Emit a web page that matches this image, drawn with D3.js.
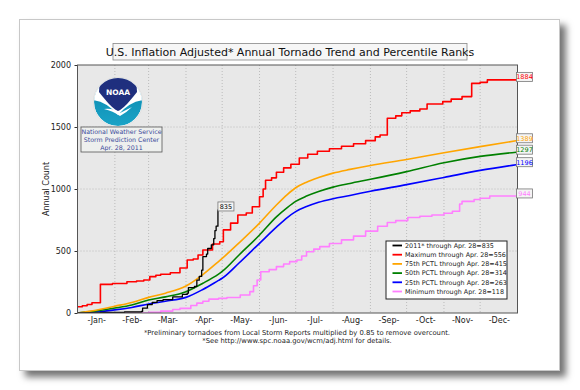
<!DOCTYPE html>
<html><head><meta charset="utf-8">
<script src="https://cdn.jsdelivr.net/npm/d3@7"></script>
<style>
body{margin:0;background:#fff}
svg{display:block}
text{font-family:"DejaVu Sans",sans-serif}
</style>
</head><body>
<script>
// ---- data ----
const monthNames = ["Jan","Feb","Mar","Apr","May","Jun","Jul","Aug","Sep","Oct","Nov","Dec"];
const monthStarts = [1,32,60,91,121,152,182,213,244,274,305,335,366];
const yTicks = [0,500,1000,1500,2000];

const pctlDays = [1,15,32,46,60,74,91,105,118,121,135,152,166,175,182,191,201,213,227,244,274,305,335,365];
const p75 = [0,20,55,85,126,160,218,310,415,440,565,725,871,955,1010,1055,1092,1128,1158,1190,1238,1292,1342,1389];
const p50 = [0,15,40,65,105,130,172,240,314,335,468,629,775,850,900,943,980,1015,1045,1078,1140,1212,1263,1297];
const p25 = [0,8,25,45,73,95,126,190,263,280,403,562,692,770,818,858,893,922,948,982,1035,1093,1150,1196];

const maxDays = [1,5,9,13,20,30,42,50,56,61,66,70,78,86,92,97,101,105,113,119,122,128,134,141,146,152,155,157,162,166,172,178,185,192,200,210,220,230,240,248,252,258,265,270,277,285,291,304,311,320,328,335,341,365];
const maxVals = [50,58,68,83,231,238,252,258,266,293,305,312,324,363,427,435,468,508,556,575,670,725,790,806,857,938,1000,1070,1090,1135,1170,1200,1250,1280,1305,1325,1345,1365,1390,1420,1435,1570,1590,1615,1630,1645,1685,1705,1725,1745,1852,1860,1880,1884];

const minDays = [1,55,60,70,80,86,95,100,105,110,118,125,136,144,147,150,153,160,166,172,177,183,187,191,197,202,210,220,230,240,250,258,265,275,285,295,305,312,318,320,330,335,343,365];
const minVals = [0,0,5,15,28,37,60,80,95,112,118,125,145,172,220,266,333,350,374,395,414,427,460,494,515,535,560,590,620,660,700,730,745,770,780,790,805,820,879,900,915,925,944,944];

const y2011Days = [1,20,40,54,55,59,63,67,72,80,88,92,93,98,100,102,104,105,108,109,112,114,115,116,117.5];
const y2011Vals = [0,4,8,12,40,68,85,100,108,130,150,160,205,215,265,295,345,455,475,520,550,600,665,700,835];

const legendLabels = ["2011* through Apr. 28=835","Maximum through Apr. 28=556","75th PCTL through Apr. 28=415","50th PCTL through Apr. 28=314","25th PCTL through Apr. 28=263","Minimum through Apr. 28=118"];
const seriesColors = ["#000000","#ff0000","#ffa500","#008000","#0000ff","#ff7fff"];
const infoLines = ["National Weather Service","Storm Prediction Center","Apr. 28, 2011"];
const titleText = "U.S. Inflation Adjusted* Annual Tornado Trend and Percentile Ranks";
const footLines = ["*Preliminary tornadoes from Local Storm Reports multiplied by 0.85 to remove overcount.","*See http://www.spc.noaa.gov/wcm/adj.html for details."];

// ---- drawing ----
const W=580,H=390;
const svg=d3.select("body").append("svg").attr("width",W).attr("height",H);
const defs=svg.append("defs");
const f=defs.append("filter").attr("id","sh").attr("x","-10%").attr("y","-10%").attr("width","130%").attr("height","130%");
f.append("feDropShadow").attr("dx",6).attr("dy",6).attr("stdDeviation",3.5).attr("flood-color","#000").attr("flood-opacity",0.55);

svg.append("rect").attr("x",19.5).attr("y",19.5).attr("width",540).attr("height",351)
  .attr("fill","#fff").attr("stroke","#c8c8c8").attr("filter","url(#sh)");

const L=77.5,R=517.5,T=65,B=313;
const x=d3.scaleLinear().domain([1,366]).range([L,R]);
const y=d3.scaleLinear().domain([0,2000]).range([B,T]);

svg.append("rect").attr("x",L).attr("y",T).attr("width",R-L).attr("height",B-T).attr("fill","#e8e8e8");

// grid
const g=svg.append("g");
g.selectAll(".vg").data(monthStarts.slice(1,12)).join("line")
  .attr("x1",d=>x(d)).attr("x2",d=>x(d)).attr("y1",T).attr("y2",B)
  .attr("stroke","#b0b0b0").attr("stroke-width",0.8).attr("stroke-dasharray","1,2");
g.selectAll(".hg").data(yTicks.slice(1,4)).join("line")
  .attr("y1",d=>y(d)).attr("y2",d=>y(d)).attr("x1",L).attr("x2",R)
  .attr("stroke","#b0b0b0").attr("stroke-width",0.8).attr("stroke-dasharray","1,2");

// y axis
const yAx=svg.append("g").attr("transform",`translate(${L},0)`)
  .call(d3.axisLeft(y).tickValues(yTicks).tickSize(3).tickFormat(d3.format("d")));
yAx.select(".domain").remove();
yAx.selectAll("line").attr("stroke","#333");
yAx.selectAll("text").attr("font-size",8).attr("fill","#222").attr("font-family","DejaVu Sans").attr("dx","-0.5");

// x axis labels
const mids=monthNames.map((m,i)=>({m,d:(monthStarts[i]+monthStarts[i+1])/2}));
const xAx=svg.append("g").attr("transform",`translate(0,${B})`)
  .call(d3.axisBottom(x).tickValues(mids.map(o=>o.d)).tickSize(0).tickPadding(4)
    .tickFormat((d,i)=>"-"+monthNames[i]+"-"));
xAx.select(".domain").remove();
xAx.selectAll("text").attr("font-size",8).attr("fill","#222").attr("font-family","DejaVu Sans");

svg.append("text").attr("transform",`translate(49,${(T+B)/2}) rotate(-90)`).attr("text-anchor","middle")
  .attr("font-size",8).attr("fill","#222").text("Annual Count");

// clip
defs.append("clipPath").attr("id","pc").append("rect").attr("x",L).attr("y",T-2).attr("width",R-L).attr("height",B-T+2);
const pl=svg.append("g").attr("clip-path","url(#pc)");

const smooth=d3.line().x(d=>x(d[0])).y(d=>y(d[1])).curve(d3.curveMonotoneX);
const step=d3.line().x(d=>x(d[0])).y(d=>y(d[1])).curve(d3.curveStepAfter);

const zip=(a,b)=>a.map((d,i)=>[d,b[i]]);
const series=[
  {data:zip(minDays,minVals),c:seriesColors[5],fn:step},
  {data:zip(pctlDays,p25),c:seriesColors[4],fn:smooth},
  {data:zip(pctlDays,p50),c:seriesColors[3],fn:smooth},
  {data:zip(pctlDays,p75),c:seriesColors[2],fn:smooth},
  {data:zip(maxDays,maxVals),c:seriesColors[1],fn:step},
  {data:zip(y2011Days,y2011Vals),c:seriesColors[0],fn:step}
];
series.forEach(s=>{
  pl.append("path").attr("d",s.fn(s.data)).attr("fill","none").attr("stroke",s.c)
    .attr("stroke-width",s.c==="#000000"?1.3:1.6).attr("stroke-linejoin","round");
});

// frame
svg.append("rect").attr("x",L).attr("y",T).attr("width",R-L).attr("height",B-T)
  .attr("fill","none").attr("stroke","#555").attr("stroke-width",1);

// end labels
const ends=[
  {v:maxVals[maxVals.length-1],c:seriesColors[1]},
  {v:p75[p75.length-1],c:seriesColors[2]},
  {v:p50[p50.length-1],c:seriesColors[3]},
  {v:p25[p25.length-1],c:seriesColors[4]},
  {v:minVals[minVals.length-1],c:seriesColors[5]}
];
function tag(px,py,txt,col){
  const gg=svg.append("g");
  gg.append("rect").attr("x",px).attr("y",py-4.5).attr("width",16).attr("height",9)
    .attr("fill","#f4f4f4").attr("stroke","#777").attr("stroke-width",0.8);
  gg.append("text").attr("x",px+8).attr("y",py+2.4).attr("text-anchor","middle")
    .attr("font-size",6.5).attr("fill",col).text(txt);
}
ends.forEach(e=>tag(R-1,y(e.v)-2.5,e.v,e.c));
tag(x(y2011Days[y2011Days.length-1]),y(y2011Vals[y2011Vals.length-1])-3,y2011Vals[y2011Vals.length-1],"#000");

// title
svg.append("rect").attr("x",113).attr("y",43.5).attr("width",354).attr("height",16.5)
  .attr("fill","#f6f6f6").attr("stroke","#888").attr("stroke-width",0.8);
svg.append("text").attr("x",290).attr("y",56).attr("text-anchor","middle").attr("font-size",11)
  .attr("fill","#111").text(titleText);

// legend
const lg=svg.append("g");
lg.append("rect").attr("x",386).attr("y",241).attr("width",121).attr("height",58)
  .attr("fill","#fff").attr("stroke","#222").attr("stroke-width",1);
legendLabels.forEach((t,i)=>{
  const yy=245.5+i*9.2;
  lg.append("line").attr("x1",392.5).attr("x2",402).attr("y1",yy).attr("y2",yy)
    .attr("stroke",seriesColors[i]).attr("stroke-width",1.8);
  lg.append("text").attr("x",405).attr("y",yy+2.3).attr("font-size",6.4).attr("fill","#222").text(t);
});

// footnotes
footLines.forEach((t,i)=>svg.append("text").attr("x",297).attr("y",334.5+i*8).attr("text-anchor","middle")
  .attr("font-size",6.8).attr("fill","#222").text(t));

// NOAA logo
const cx=118,cy=102,r=24;
const lgrad=defs.append("linearGradient").attr("id","tg").attr("x1",0).attr("y1",0).attr("x2",0).attr("y2",1);
lgrad.append("stop").attr("offset","0%").attr("stop-color","#0a86ad");
lgrad.append("stop").attr("offset","100%").attr("stop-color","#1aa3c6");
defs.append("clipPath").attr("id","lc").append("circle").attr("cx",cx).attr("cy",cy).attr("r",r);
const logo=svg.append("g");
logo.append("circle").attr("cx",cx).attr("cy",cy).attr("r",r+0.6).attr("fill","#fff").attr("stroke","#ccc").attr("stroke-width",0.5);
const lgc=logo.append("g").attr("clip-path","url(#lc)");
lgc.append("circle").attr("cx",cx).attr("cy",cy).attr("r",r).attr("fill","url(#tg)");
lgc.append("path").attr("d",`M${cx-26},${cy-26} L${cx+26},${cy-26} L${cx+26},${cy-2} Q${cx+12},${cy-1} ${cx},${cy+13} Q${cx-12},${cy-1} ${cx-26},${cy-2} Z`)
  .attr("fill","#fff");
lgc.append("path").attr("d",`M${cx-18},${cy-26} L${cx+18},${cy-26} L${cx+19},${cy-10} Q${cx+16},${cy-6} ${cx+9},${cy+2} Q${cx+3},${cy+8} ${cx},${cy+9} Q${cx-3},${cy+8} ${cx-9},${cy+2} Q${cx-16},${cy-6} ${cx-19},${cy-10} Z`)
  .attr("fill","#1f2f7e");
logo.append("path").attr("d",`M${cx-14},${cy+7} Q${cx-4},${cy+6} ${cx+2},${cy+11} Q${cx+8},${cy+8} ${cx+14},${cy+5} Q${cx+8},${cy+11} ${cx+2},${cy+14} Q${cx-5},${cy+9} ${cx-14},${cy+7} Z`)
  .attr("fill","#fff");
logo.append("text").attr("x",cx).attr("y",cy-7).attr("text-anchor","middle").attr("font-size",7.5)
  .attr("font-weight","bold").attr("fill","#fff").text("NOAA");

// info box
svg.append("rect").attr("x",81).attr("y",127).attr("width",81).attr("height",25)
  .attr("fill","#eef0ee").attr("stroke","#555").attr("stroke-width",0.8);
infoLines.forEach((t,i)=>svg.append("text").attr("x",121.5).attr("y",134+i*7.8).attr("text-anchor","middle")
  .attr("font-size",6.3).attr("fill","#3a4a9a").text(t));
</script>
</body></html>
